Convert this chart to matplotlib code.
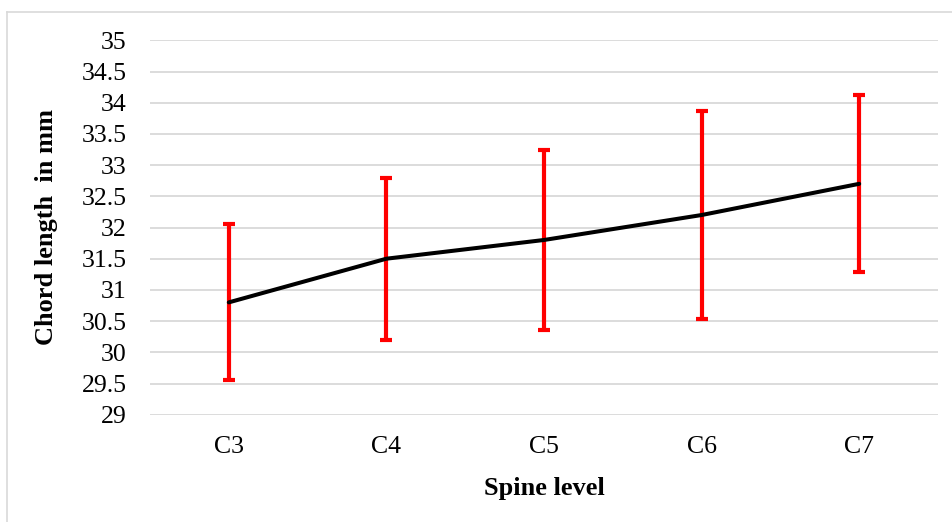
import matplotlib.pyplot as plt
from matplotlib.lines import Line2D

# data
levels = ["C3", "C4", "C5", "C6", "C7"]
chord_mean = [30.8, 31.5, 31.8, 32.2, 32.7]
chord_sd = [1.25, 1.3, 1.45, 1.66, 1.42]
yticks = [29, 29.5, 30, 30.5, 31, 31.5, 32, 32.5, 33, 33.5, 34, 34.5, 35]

plt.rcParams['font.family'] = ['Liberation Serif', 'DejaVu Serif']

fig = plt.figure(figsize=(9.53, 5.22), dpi=100)
ax = fig.add_axes([150 / 953, 1 - 414.7 / 522, 788 / 953, 374.4 / 522])

# outer chart border (only top and left edges are visible in the crop)
bx, by = 7.5 / 953, 1 - 11.5 / 522
fig.lines.append(Line2D([bx, 1.0], [by, by], transform=fig.transFigure,
                        color='#d9d9d9', linewidth=1.2))
fig.lines.append(Line2D([bx, bx], [0.0, by], transform=fig.transFigure,
                        color='#d9d9d9', linewidth=1.2))

x = range(len(levels))
ax.errorbar(x, chord_mean, yerr=chord_sd, fmt='none', ecolor='#ff0000',
            elinewidth=3, capsize=4.5, capthick=3, zorder=3)
ax.plot(x, chord_mean, color='black', linewidth=2.9, zorder=4,
        solid_capstyle='round')

ax.set_xlim(-0.5, len(levels) - 0.5)
ax.set_ylim(29, 35)
ax.set_yticks(yticks)
ax.set_yticklabels([f"{t:g}" for t in yticks])
ax.set_xticks(list(x))
ax.set_xticklabels(levels)
ax.tick_params(axis='both', length=0, labelsize=18.5)
ax.tick_params(axis='y', pad=17)
ax.tick_params(axis='x', pad=15)

ax.grid(axis='y', color='#d9d9d9', linewidth=1.3)
ax.set_axisbelow(True)
for s in ax.spines.values():
    s.set_visible(False)

ax.set_xlabel("Spine level", fontsize=19, fontweight='bold', labelpad=14)
ax.set_ylabel("Chord length  in mm", fontsize=19, fontweight='bold', labelpad=17)

fig.savefig("out.png", dpi=100)
